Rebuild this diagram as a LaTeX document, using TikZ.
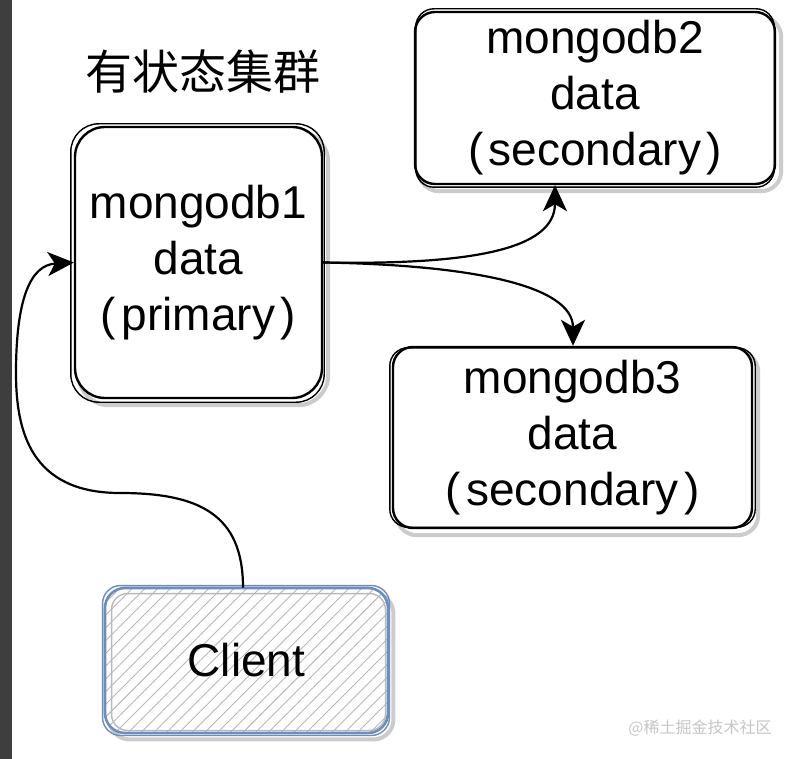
\documentclass[tikz,border=0pt]{standalone}
\usepackage{fontspec}
\setmainfont{Liberation Sans}
\newfontfamily\cjk{Noto Sans CJK SC}
\usetikzlibrary{arrows.meta,patterns.meta}
\definecolor{clientblue}{HTML}{6C8EBF}
\definecolor{sidebar}{HTML}{3E3E3E}
\pgfdeclarelayer{bg}
\pgfsetlayers{bg,main}
\tikzset{
  dbbox/.style={draw=black, line width=2.4pt, rounded corners=#1, fill=white,
    align=center, font=\fontsize{46}{56}\selectfont, inner sep=0pt},
  clientbox/.style={draw=clientblue, line width=2.6pt, rounded corners=20pt,
    preaction={fill=white},
    pattern={Lines[angle=45,distance=9pt,line width=0.9pt]}, pattern color=gray!55,
    font=\fontsize{46}{56}\selectfont, inner sep=0pt},
  shadowline/.style={draw=gray!40, line width=4pt},
  sketchline/.style={draw=black, line width=1.4pt},
  conn/.style={line width=2.2pt, -{Stealth[length=26pt,width=24pt,inset=7pt]}},
  titletext/.style={font=\cjk\fontsize{47}{52}\selectfont},
  marktext/.style={font=\cjk\fontsize{16}{18}\selectfont, text=gray!45}
}
\newcommand\lpar{(\hspace{0.12em}}
\newcommand\rpar{\hspace{0.12em})}
\begin{document}
\begin{tikzpicture}[x=1pt,y=-1pt]
\useasboundingbox (0,0) rectangle (787,759);

% nodes
\node[dbbox=30pt, minimum width=247pt, minimum height=271pt] (m1) at (198.5,262.5)
  {mongodb1\\data\\\lpar primary\rpar};
\node[dbbox=20pt, minimum width=360pt, minimum height=172pt] (m2) at (595,98)
  {mongodb2\\data\\\lpar secondary\rpar};
\node[dbbox=20pt, minimum width=359pt, minimum height=181pt] (m3) at (572.5,437.5)
  {mongodb3\\data\\\lpar secondary\rpar};
\node[clientbox, minimum width=283pt, minimum height=145pt] (cl) at (246.5,660.5) {};

\node[titletext] (title) at (203,72) {有状态集群};
\node[marktext] (mark) at (700,728) {@稀土掘金技术社区};

% background and shadows
\begin{pgfonlayer}{bg}
  \fill[white] (0,0) rectangle (787,759);
  \fill[sidebar] (0,0) rectangle (12,759);
  \draw[shadowline, rounded corners=30pt] ([shift={(5,6)}]m1.north west) rectangle ([shift={(5,6)}]m1.south east);
  \draw[shadowline, rounded corners=20pt] ([shift={(5,6)}]m2.north west) rectangle ([shift={(5,6)}]m2.south east);
  \draw[shadowline, rounded corners=20pt] ([shift={(5,6)}]m3.north west) rectangle ([shift={(5,6)}]m3.south east);
  \draw[shadowline, rounded corners=20pt] ([shift={(5,6)}]cl.north west) rectangle ([shift={(5,6)}]cl.south east);
\end{pgfonlayer}

% sketchy second strokes
\draw[sketchline, rounded corners=28pt] ([shift={(-3,-2)}]m1.north west) rectangle ([shift={(1,3)}]m1.south east);
\draw[sketchline, rounded corners=18pt] ([shift={(2,-2)}]m2.north west) rectangle ([shift={(-2,2)}]m2.south east);
\draw[sketchline, rounded corners=18pt] ([shift={(-2,2)}]m3.north west) rectangle ([shift={(2,-2)}]m3.south east);
\draw[draw=gray!55, line width=1.4pt, rounded corners=16pt] ([shift={(7,6)}]cl.north west) rectangle ([shift={(-3,-3)}]cl.south east);
\draw[draw=clientblue, line width=1.4pt, rounded corners=18pt] ([shift={(-2,-2)}]cl.north west) rectangle ([shift={(1,2)}]cl.south east);
\node[font=\fontsize{46}{56}\selectfont] (cltext) at (cl.center) {Client};

% connectors
\coordinate (c1) at (243,588);
\draw[conn] (cl.north -| c1) .. controls (243,515) and (200,493) .. (120,493)
  .. controls (30,493) and (16,430) .. (16,373)
  .. controls (16,300) and (30,265) .. (m1.west);
\coordinate (t2) at (555,186);
\coordinate (t3) at (573,345);
\draw[conn] (m1.east) .. controls (470,265) and (555,250) .. (m2.south -| t2);
\draw[conn] (m1.east) .. controls (470,265) and (573,285) .. (m3.north -| t3);
\end{tikzpicture}
\end{document}
